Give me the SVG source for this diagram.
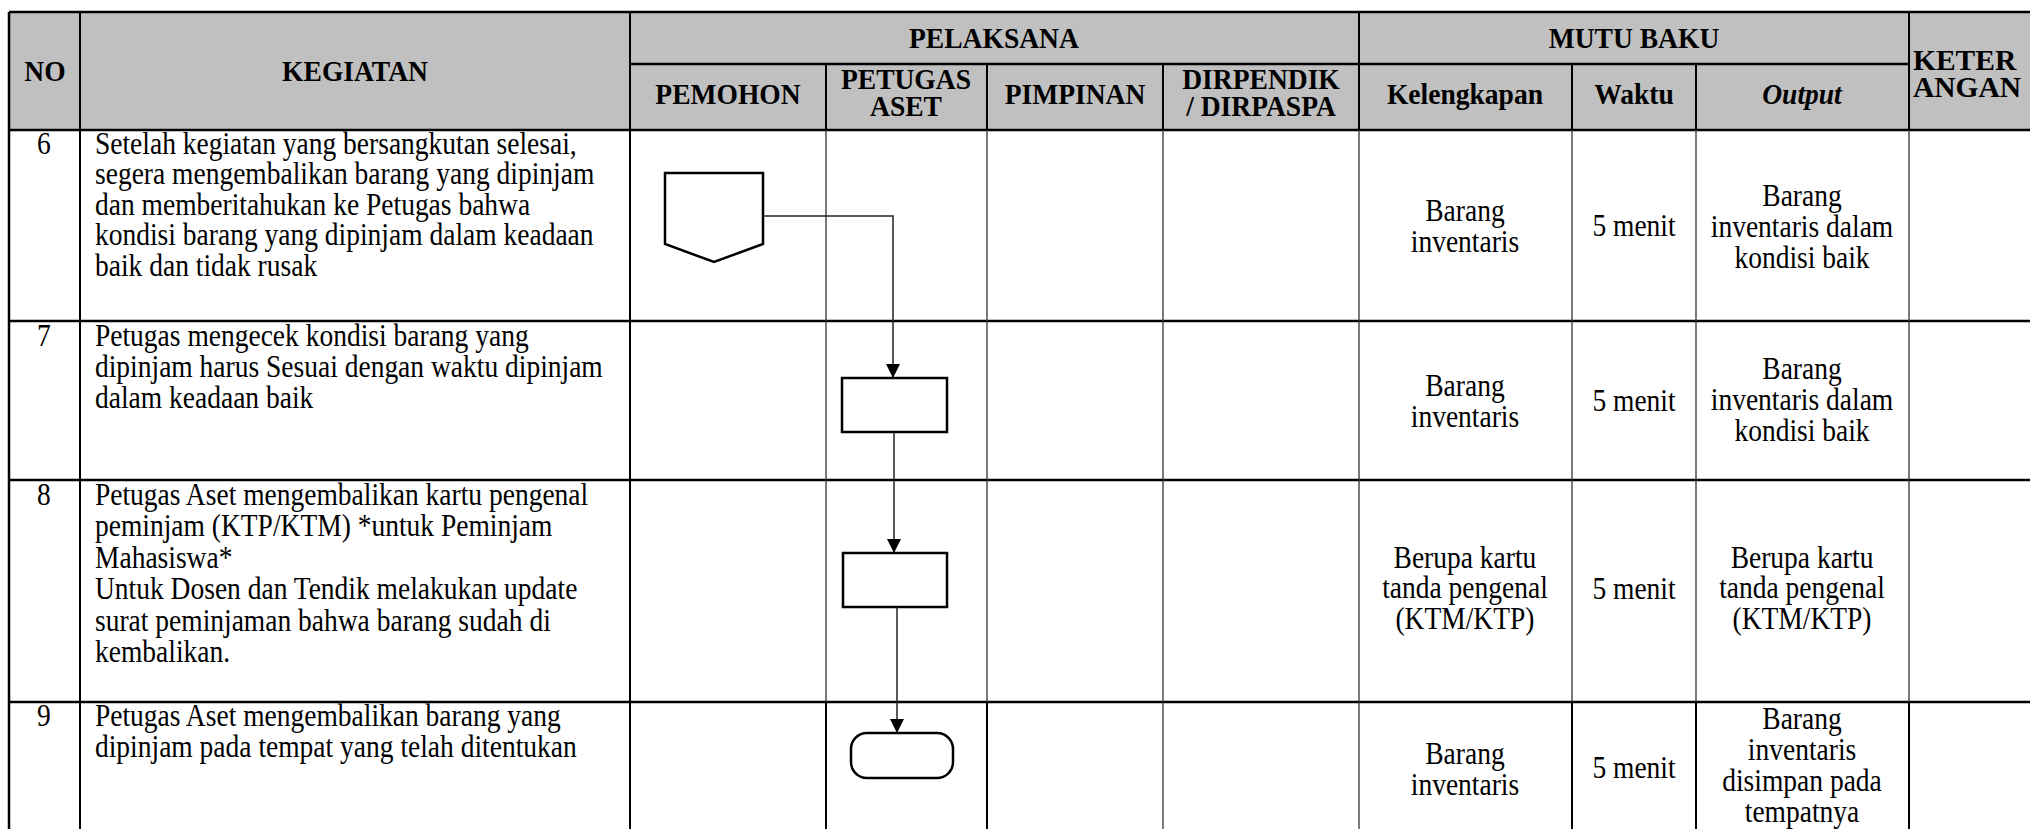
<svg xmlns="http://www.w3.org/2000/svg" width="2030" height="829" viewBox="0 0 2030 829">
<style>
.hd{font-family:"Liberation Serif","Times New Roman",serif;font-size:29.3px;font-weight:bold;fill:#000;text-anchor:middle}
.tx{font-family:"Liberation Serif","Times New Roman",serif;font-size:31px;fill:#000}
.c{text-anchor:middle}
.kt{font-family:"Liberation Serif","Times New Roman",serif;font-size:29.5px;font-weight:bold;fill:#000}
.thick{stroke:#000;stroke-width:2.5;fill:none}
.thin{stroke:#333;stroke-width:1.3;fill:none}
.mid{stroke:#000;stroke-width:2;fill:none}
.shape{fill:#fff;stroke:#000;stroke-width:2.5}
.conn{stroke:#222;stroke-width:1.5;fill:none}
</style>
<defs>
<marker id="arr" markerUnits="userSpaceOnUse" markerWidth="14" markerHeight="14" refX="14" refY="7" orient="auto">
<path d="M0,0 L14,7 L0,14 Z" fill="#000"/>
</marker>
</defs>
<rect x="0" y="0" width="2030" height="829" fill="#fff"/>
<g id="table">
<rect x="9" y="12" width="2030" height="118" fill="#c0c0c0"/>
<line class="thick" x1="9" y1="12" x2="2030" y2="12"/>
<line class="thick" x1="630" y1="64" x2="1909" y2="64"/>
<line class="thick" x1="9" y1="130" x2="2030" y2="130"/>
<line class="thick" x1="9" y1="321" x2="2030" y2="321"/>
<line class="thick" x1="9" y1="480" x2="2030" y2="480"/>
<line class="thick" x1="9" y1="702" x2="2030" y2="702"/>
<line class="thick" x1="9" y1="12" x2="9" y2="829"/>
<line class="mid" x1="80" y1="12" x2="80" y2="829"/>
<line class="mid" x1="630" y1="12" x2="630" y2="829"/>
<line class="mid" x1="1359" y1="12" x2="1359" y2="130"/>
<line class="mid" x1="1909" y1="12" x2="1909" y2="130"/>
<line class="mid" x1="826" y1="64" x2="826" y2="130"/>
<line class="mid" x1="987" y1="64" x2="987" y2="130"/>
<line class="mid" x1="1163" y1="64" x2="1163" y2="130"/>
<line class="mid" x1="1572" y1="64" x2="1572" y2="130"/>
<line class="mid" x1="1696" y1="64" x2="1696" y2="130"/>
<line class="thin" x1="826" y1="130" x2="826" y2="702"/>
<line class="thin" x1="987" y1="130" x2="987" y2="702"/>
<line class="thin" x1="1163" y1="130" x2="1163" y2="702"/>
<line class="thin" x1="1359" y1="130" x2="1359" y2="702"/>
<line class="thin" x1="1572" y1="130" x2="1572" y2="702"/>
<line class="thin" x1="1696" y1="130" x2="1696" y2="702"/>
<line class="thin" x1="1909" y1="130" x2="1909" y2="702"/>
<line class="mid" x1="826" y1="702" x2="826" y2="829"/>
<line class="mid" x1="987" y1="702" x2="987" y2="829"/>
<line class="thin" x1="1163" y1="702" x2="1163" y2="829"/>
<line class="thin" x1="1359" y1="702" x2="1359" y2="829"/>
<line class="mid" x1="1572" y1="702" x2="1572" y2="829"/>
<line class="mid" x1="1696" y1="702" x2="1696" y2="829"/>
<line class="mid" x1="1909" y1="702" x2="1909" y2="829"/>
<text class="kt" x="1913" y="70">KETER</text>
<text class="kt" x="1913" y="97">ANGAN</text>
<g transform="scale(0.94 1)">
<text class="hd" x="47.9" y="81">NO</text>
<text class="hd" x="377.7" y="81">KEGIATAN</text>
<text class="hd" x="1057.4" y="48">PELAKSANA</text>
<text class="hd" x="1738.3" y="48">MUTU BAKU</text>
<text class="hd" x="774.5" y="104">PEMOHON</text>
<text class="hd" x="963.8" y="89">PETUGAS</text>
<text class="hd" x="963.8" y="116">ASET</text>
<text class="hd" x="1143.6" y="104">PIMPINAN</text>
<text class="hd" x="1341.5" y="89">DIRPENDIK</text>
<text class="hd" x="1341.5" y="116">/ DIRPASPA</text>
<text class="hd" x="1558.5" y="104">Kelengkapan</text>
<text class="hd" x="1738.3" y="104">Waktu</text>
<text class="hd" x="1917" y="104" font-style="italic">Output</text>
</g>
</g>
<g id="row6" transform="scale(0.887 1)">
<text class="tx c" x="49.6" y="154">6</text>
<text class="tx" x="107.1" y="154">Setelah kegiatan yang bersangkutan selesai,</text>
<text class="tx" x="107.1" y="184.5">segera mengembalikan barang yang dipinjam</text>
<text class="tx" x="107.1" y="215">dan memberitahukan ke Petugas bahwa</text>
<text class="tx" x="107.1" y="245.5">kondisi barang yang dipinjam dalam keadaan</text>
<text class="tx" x="107.1" y="276">baik dan tidak rusak</text>
<text class="tx c" x="1651.6" y="221">Barang</text>
<text class="tx c" x="1651.6" y="252">inventaris</text>
<text class="tx c" x="1842.2" y="236">5 menit</text>
<text class="tx c" x="2031.6" y="206">Barang</text>
<text class="tx c" x="2031.6" y="237">inventaris dalam</text>
<text class="tx c" x="2031.6" y="268">kondisi baik</text>
</g>
<g id="row7" transform="scale(0.887 1)">
<text class="tx c" x="49.6" y="346">7</text>
<text class="tx" x="107.1" y="346">Petugas mengecek kondisi barang yang</text>
<text class="tx" x="107.1" y="377">dipinjam harus Sesuai dengan waktu dipinjam</text>
<text class="tx" x="107.1" y="408">dalam keadaan baik</text>
<text class="tx c" x="1651.6" y="396">Barang</text>
<text class="tx c" x="1651.6" y="427">inventaris</text>
<text class="tx c" x="1842.2" y="411">5 menit</text>
<text class="tx c" x="2031.6" y="379">Barang</text>
<text class="tx c" x="2031.6" y="410">inventaris dalam</text>
<text class="tx c" x="2031.6" y="441">kondisi baik</text>
</g>
<g id="row8" transform="scale(0.887 1)">
<text class="tx c" x="49.6" y="505">8</text>
<text class="tx" x="107.1" y="505">Petugas Aset mengembalikan kartu pengenal</text>
<text class="tx" x="107.1" y="536.5">peminjam (KTP/KTM) *untuk Peminjam</text>
<text class="tx" x="107.1" y="568">Mahasiswa*</text>
<text class="tx" x="107.1" y="599.5">Untuk Dosen dan Tendik melakukan update</text>
<text class="tx" x="107.1" y="631">surat peminjaman bahwa barang sudah di</text>
<text class="tx" x="107.1" y="662.5">kembalikan.</text>
<text class="tx c" x="1651.6" y="568">Berupa kartu</text>
<text class="tx c" x="1651.6" y="598.5">tanda pengenal</text>
<text class="tx c" x="1651.6" y="629">(KTM/KTP)</text>
<text class="tx c" x="1842.2" y="599">5 menit</text>
<text class="tx c" x="2031.6" y="568">Berupa kartu</text>
<text class="tx c" x="2031.6" y="598.5">tanda pengenal</text>
<text class="tx c" x="2031.6" y="629">(KTM/KTP)</text>
</g>
<g id="row9" transform="scale(0.887 1)">
<text class="tx c" x="49.6" y="726">9</text>
<text class="tx" x="107.1" y="726">Petugas Aset mengembalikan barang yang</text>
<text class="tx" x="107.1" y="757">dipinjam pada tempat yang telah ditentukan</text>
<text class="tx c" x="1651.6" y="764">Barang</text>
<text class="tx c" x="1651.6" y="795">inventaris</text>
<text class="tx c" x="1842.2" y="778">5 menit</text>
<text class="tx c" x="2031.6" y="729">Barang</text>
<text class="tx c" x="2031.6" y="760">inventaris</text>
<text class="tx c" x="2031.6" y="791">disimpan pada</text>
<text class="tx c" x="2031.6" y="822">tempatnya</text>
</g>
<g id="node-start">
<polygon class="shape" points="665,173 763,173 763,244 714,262 665,244"/>
</g>
<g id="node-check">
<rect class="shape" x="842" y="378" width="105" height="54"/>
</g>
<g id="node-return-card">
<rect class="shape" x="843" y="553" width="104" height="54"/>
</g>
<g id="node-end">
<rect class="shape" x="851" y="733" width="102" height="45" rx="16" ry="16"/>
</g>
<g id="connectors">
<path class="conn" d="M763,216 H893 V378" marker-end="url(#arr)"/>
<path class="conn" d="M894,432 V553" marker-end="url(#arr)"/>
<path class="conn" d="M897,607 V733" marker-end="url(#arr)"/>
</g>
</svg>
